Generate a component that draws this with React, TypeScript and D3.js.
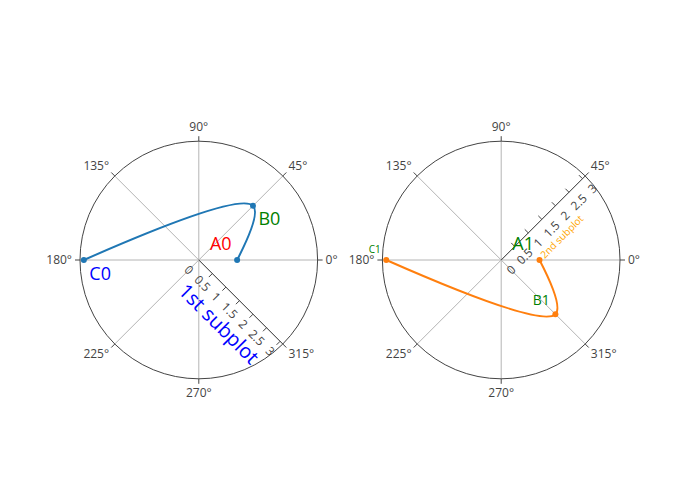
import React, { useRef, useEffect } from 'react';
import * as d3 from 'd3';

// data
const rValues = [1, 2, 3];
const thetaFirst = [0, 45, 180];
const thetaSecond = [0, -45, 180];
const textFirst = ['A0', 'B0', 'C0'];
const textSecond = ['A1', 'B1', 'C1'];
const radialTicks = [0, 0.5, 1, 1.5, 2, 2.5, 3];
const angularTicks = [0, 45, 90, 135, 180, 225, 270, 315];
const radialTitles = ['1st subplot', '2nd subplot'];
const radialMax = 3.1;

// plotly-like open spline (centripetal catmull-rom, smoothing 1)
function makeTangent(prev: number[], pt: number[], next: number[]) {
  const d1x = prev[0] - pt[0], d1y = prev[1] - pt[1];
  const d2x = next[0] - pt[0], d2y = next[1] - pt[1];
  const d1a = Math.pow(d1x * d1x + d1y * d1y, 0.25);
  const d2a = Math.pow(d2x * d2x + d2y * d2y, 0.25);
  const numx = d2a * d2a * d1x - d1a * d1a * d2x;
  const numy = d2a * d2a * d1y - d1a * d1a * d2y;
  const den1 = 3 * d2a * (d1a + d2a);
  const den2 = 3 * d1a * (d1a + d2a);
  return [
    [pt[0] + numx / den1, pt[1] + numy / den1],
    [pt[0] - numx / den2, pt[1] - numy / den2],
  ];
}

function smoothOpen(pts: number[][]) {
  if (pts.length < 3) return 'M' + pts.join('L');
  const tangents = [];
  for (let i = 1; i < pts.length - 1; i++) tangents.push(makeTangent(pts[i - 1], pts[i], pts[i + 1]));
  let path = 'M' + pts[0] + 'Q' + tangents[0][0] + ' ' + pts[1];
  for (let i = 2; i < pts.length - 1; i++) {
    path += 'C' + tangents[i - 2][1] + ' ' + tangents[i - 1][0] + ' ' + pts[i];
  }
  path += 'Q' + tangents[pts.length - 3][1] + ' ' + pts[pts.length - 1];
  return path;
}

const App = () => {
  const ref = useRef<HTMLDivElement>(null);

  useEffect(() => {
    const width = 700;
    const height = 500;
    const margin = { top: 100, right: 80, bottom: 80, left: 80 };
    const plotW = width - margin.left - margin.right;
    const plotH = height - margin.top - margin.bottom;
    const font = "'Open Sans', verdana, arial, sans-serif";
    const axisColor = '#444';
    const gridColor = '#b4b4b4';

    const subplots = [
      {
        domain: [0, 0.44],
        theta: thetaFirst,
        text: textFirst,
        title: radialTitles[0],
        color: '#1f77b4',
        radialAngle: -45,
        tickSide: -1,
        titleColor: 'blue',
        titleSize: 20,
        textColors: ['red', 'green', 'blue'],
        textSizes: [18, 18, 18],
        textPos: ['top left', 'bottom right', 'bottom right'],
      },
      {
        domain: [0.56, 1],
        theta: thetaSecond,
        text: textSecond,
        title: radialTitles[1],
        color: '#ff7f0e',
        radialAngle: 45,
        tickSide: 1,
        titleColor: 'orange',
        titleSize: 10,
        textColors: ['green', 'green', 'green'],
        textSizes: [18, 14, 10],
        textPos: ['top left', 'top left', 'top left'],
      },
    ];

    const root = d3.select(ref.current);
    root.selectAll('*').remove();
    const svg = root
      .append('svg')
      .attr('width', width)
      .attr('height', height)
      .style('position', 'absolute')
      .style('left', 0)
      .style('top', 0)
      .style('background', '#fff')
      .attr('font-family', font);

    const toRad = d3.scaleLinear().domain([0, 360]).range([0, 2 * Math.PI]);

    subplots.forEach(sp => {
      const x0 = margin.left + sp.domain[0] * plotW;
      const x1 = margin.left + sp.domain[1] * plotW;
      const R = Math.min(x1 - x0, plotH) / 2;
      const cx = (x0 + x1) / 2;
      const cy = margin.top + plotH / 2;
      const rScale = d3.scaleLinear().domain([0, radialMax]).range([0, R]);
      const px = (r: number, th: number) => [
        cx + rScale(r) * Math.cos(toRad(th)),
        cy - rScale(r) * Math.sin(toRad(th)),
      ];

      const g = svg.append('g');

      // angular grid (spokes)
      g.append('g')
        .selectAll('line')
        .data(angularTicks)
        .join('line')
        .attr('x1', cx)
        .attr('y1', cy)
        .attr('x2', d => px(radialMax, d)[0])
        .attr('y2', d => px(radialMax, d)[1])
        .attr('stroke', gridColor)
        .attr('stroke-width', 1);

      // outer circle
      g.append('circle')
        .attr('cx', cx)
        .attr('cy', cy)
        .attr('r', R)
        .attr('fill', 'none')
        .attr('stroke', axisColor)
        .attr('stroke-width', 1);

      // angular ticks + labels
      const at = g.append('g').selectAll('g').data(angularTicks).join('g');
      at.append('line')
        .attr('x1', d => cx + R * Math.cos(toRad(d)))
        .attr('y1', d => cy - R * Math.sin(toRad(d)))
        .attr('x2', d => cx + (R + 5) * Math.cos(toRad(d)))
        .attr('y2', d => cy - (R + 5) * Math.sin(toRad(d)))
        .attr('stroke', axisColor);
      at.append('text')
        .attr('x', d => cx + (R + 8) * Math.cos(toRad(d)))
        .attr('y', d => cy - (R + 8) * Math.sin(toRad(d)))
        .attr('dy', d => 0.35 * 12 - Math.sin(toRad(d)) * 6)
        .attr('text-anchor', d => {
          const c = Math.cos(toRad(d));
          return c > 0.3 ? 'start' : c < -0.3 ? 'end' : 'middle';
        })
        .attr('font-size', 12)
        .attr('fill', axisColor)
        .text(d => `${d}°`);

      // radial axis
      const a = sp.radialAngle;
      // clockwise perpendicular (label side)
      const nx = Math.cos(toRad(a - 90)), ny = -Math.sin(toRad(a - 90));
      const ra = g.append('g');
      ra.append('line')
        .attr('x1', cx)
        .attr('y1', cy)
        .attr('x2', px(radialMax, a)[0])
        .attr('y2', px(radialMax, a)[1])
        .attr('stroke', axisColor);
      const tsx = sp.tickSide < 0 ? nx : -nx, tsy = sp.tickSide < 0 ? ny : -ny;
      ra.selectAll('line.tick')
        .data(radialTicks.filter(t => t > 0))
        .join('line')
        .attr('class', 'tick')
        .attr('x1', d => px(d, a)[0])
        .attr('y1', d => px(d, a)[1])
        .attr('x2', d => px(d, a)[0] + tsx * 5)
        .attr('y2', d => px(d, a)[1] + tsy * 5)
        .attr('stroke', axisColor);
      ra.selectAll('text.tl')
        .data(radialTicks)
        .join('text')
        .attr('class', 'tl')
        .attr('transform', d => {
          const p = px(d, a);
          return `translate(${p[0] + nx * 14},${p[1] + ny * 14}) rotate(${-a})`;
        })
        .attr('dy', '0.35em')
        .attr('text-anchor', 'middle')
        .attr('font-size', 12)
        .attr('fill', axisColor)
        .text(d => d);
      const tOff = 22 + sp.titleSize * 0.45;
      const mid = px(radialMax / 2, a);
      ra.append('text')
        .attr('transform', `translate(${mid[0] + nx * tOff},${mid[1] + ny * tOff}) rotate(${-a})`)
        .attr('dy', '0.35em')
        .attr('text-anchor', 'middle')
        .attr('font-size', sp.titleSize)
        .attr('fill', sp.titleColor)
        .text(sp.title);

      // trace
      const pts = rValues.map((r, i) => px(r, sp.theta[i]));
      g.append('path')
        .attr('d', smoothOpen(pts))
        .attr('fill', 'none')
        .attr('stroke', sp.color)
        .attr('stroke-width', 2);
      g.append('g')
        .selectAll('circle')
        .data(pts)
        .join('circle')
        .attr('cx', d => d[0])
        .attr('cy', d => d[1])
        .attr('r', 3)
        .attr('fill', sp.color);

      // point text
      g.append('g')
        .selectAll('text')
        .data(sp.text)
        .join('text')
        .attr('x', (d, i) => pts[i][0] + (sp.textPos[i].includes('left') ? -5.5 : 5.5))
        .attr('y', (d, i) => {
          const fs = sp.textSizes[i];
          return sp.textPos[i].includes('top') ? pts[i][1] - 4 - 0.35 * fs : pts[i][1] + 6 + 0.75 * fs;
        })
        .attr('text-anchor', (d, i) => (sp.textPos[i].includes('left') ? 'end' : 'start'))
        .attr('font-size', (d, i) => sp.textSizes[i])
        .attr('fill', (d, i) => sp.textColors[i])
        .text(d => d);
    });
  }, []);

  return <div ref={ref} style={{ width: 700, height: 500 }} />;
};

export default App;
